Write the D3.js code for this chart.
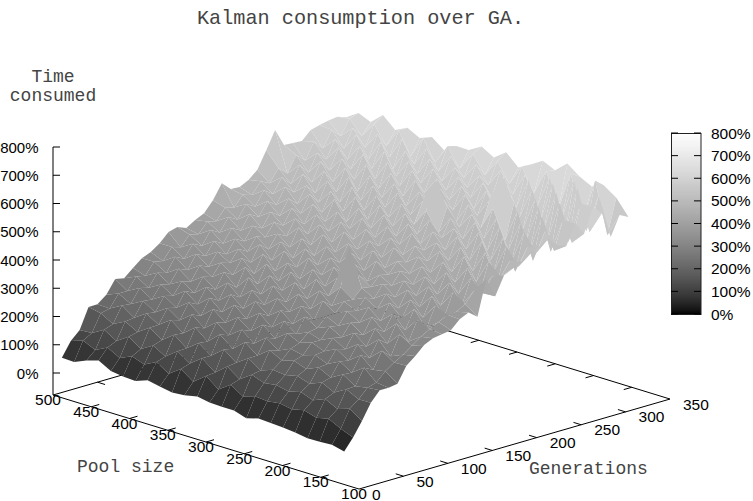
<!DOCTYPE html>
<html><head><meta charset="utf-8">
<script src="https://cdn.jsdelivr.net/npm/d3@7/dist/d3.min.js"></script>
<style>html,body{margin:0;padding:0;background:#fff}svg{display:block}</style>
</head><body><svg id="c" width="753" height="501"></svg>
<script>
const poolTicks=[500,450,400,350,300,250,200,150,100];
const genTicks=[0,50,100,150,200,250,300,350];
const zTicks=[0,100,200,300,400,500,600,700,800];
const poolSizes=[500,484,468,452,436,420,404,388,372,356,340,323,307,291,275,259,243,227,211,195,179,163,147,131];
const generations=[10,20,30,40,50,60,70,80,90,100,110,120,130,140,150,160,170,180,190,200,210,220,230,240,250,260,270,280,290,300,310,320,330];
const timeConsumed=[
[45,95,125,197,198,222,269,263,290,315,328,350,381,389,377,396,411,448,499,469,467,483,510,570,633,570,568,566,596,605,612,616,605],
[43,110,128,188,196,240,240,282,276,316,310,350,340,376,368,404,396,434,426,462,452,492,476,520,492,548,520,578,545,600,570,622,633],
[62,90,152,164,220,216,264,256,300,290,338,322,366,350,396,378,424,406,452,434,482,460,510,478,535,500,560,528,590,548,612,575,615],
[75,112,126,186,190,240,236,280,272,318,304,352,336,380,362,408,390,438,420,466,444,498,470,525,488,552,512,582,532,610,556,630,653],
[51,88,154,162,218,214,262,254,296,286,334,320,364,346,392,374,420,402,450,428,480,452,508,472,540,494,566,520,592,536,618,565,613],
[45,108,124,190,192,242,234,284,268,316,306,348,338,378,360,404,392,436,416,468,440,500,462,528,480,556,506,586,526,612,548,634,634],
[42,92,150,160,222,212,266,250,302,284,336,318,368,344,398,372,418,400,454,424,486,448,514,466,546,486,572,512,600,528,626,556,611],
[58,114,124,192,188,246,232,286,268,322,296,358,326,386,356,412,384,444,412,472,438,508,456,532,476,556,500,584,526,606,550,634,628],
[50,86,156,158,222,210,268,250,302,284,344,312,374,340,402,368,428,396,458,426,486,442,520,464,542,490,568,514,594,538,620,560,595],
[42,116,126,190,186,244,234,288,266,322,298,356,328,382,358,414,380,446,410,472,440,504,454,530,478,554,500,582,528,604,552,630,623],
[45,84,158,158,224,212,266,252,304,284,342,316,372,338,404,370,426,398,460,424,490,446,518,466,544,488,570,516,592,540,618,566,622],
[55,118,122,194,188,246,232,286,268,320,298,358,326,386,358,410,384,442,412,474,436,506,458,528,480,552,504,580,530,602,556,632,649],
[47,84,156,160,224,210,268,250,300,286,340,314,374,340,398,368,430,396,456,428,488,444,516,468,542,492,566,518,590,544,616,570,623],
[45,114,124,190,190,244,232,284,266,320,300,356,328,384,354,412,382,444,410,470,438,502,456,530,625,550,504,580,530,600,556,632,655],
[45,86,154,160,222,212,264,252,304,284,342,316,372,500,398,366,428,396,458,424,490,444,520,464,548,486,572,514,596,536,622,566,614],
[31,100,138,176,200,232,244,272,278,310,312,344,342,374,368,402,394,432,420,468,444,500,470,530,490,560,512,590,530,622,550,640,638],
[44,96,144,170,212,222,258,258,296,290,332,324,362,350,392,378,420,402,452,428,484,450,516,470,548,490,580,510,610,526,634,560,665],
[41,102,134,180,196,236,240,278,272,314,306,350,336,380,360,408,386,440,410,476,434,510,456,542,476,574,680,602,514,636,534,650,644],
[38,94,146,166,214,218,262,252,300,284,338,316,370,342,398,368,426,392,460,416,494,438,528,456,560,474,596,494,626,510,648,530,682],
[34,104,130,184,192,240,234,282,266,320,300,354,330,386,352,414,378,446,402,484,424,520,444,552,462,590,476,616,500,650,516,668,649],
[27,90,148,162,216,214,266,248,304,280,342,310,374,336,402,360,432,384,466,408,502,428,536,446,572,458,606,480,640,490,664,510,627],
[28,100,126,186,188,244,228,286,258,326,292,360,320,390,342,420,366,452,390,492,410,528,430,560,450,596,464,626,480,660,500,670,644],
[31,78,140,164,196,205,236,258,276,300,322,340,356,372,374,392,430,412,462,452,498,470,530,500,570,490,590,500,630,520,640,490,614],
[20,60,110,165,200,200,205,260,285,315,330,335,340,370,385,360,485,415,480,495,510,530,545,565,530,520,590,545,630,600,506,575,559]
];
const svg=d3.select('#c');
const poolX=d3.scaleLinear().domain([500,100]).range([53,359]);
const poolY=d3.scaleLinear().domain([500,100]).range([0,94]);
const genX=d3.scaleLinear().domain([0,350]).range([0,311]);
const genY=d3.scaleLinear().domain([0,350]).range([0,-90]);
const zY=d3.scaleLinear().domain([0,800]).range([373,147]);
const baseZ=-78;
const px=(p,g)=>poolX(p)+genX(g);
const py=(p,g,z)=>zY(z)+poolY(p)+genY(g);
const gray=z=>{const v=Math.max(0,Math.min(1,z/800));const c=Math.round(255*Math.pow(v,1/1.5));return d3.rgb(c,c,c).formatHex();};
const line=d3.line();
const axisCol='#000';
function seg(a,b){svg.append('path').attr('d',line([a,b])).attr('fill','none').attr('stroke',axisCol).attr('stroke-width',1);}
const P=(p,g)=>[px(p,g),py(p,g,baseZ)];
seg(P(500,0),P(100,0));seg(P(100,0),P(100,350));seg(P(100,350),P(500,350));seg(P(500,350),P(500,0));
poolTicks.slice(1,-1).forEach(p=>{seg(P(p,0),P(p,9));seg(P(p,350),P(p,341));});
genTicks.slice(1,-1).forEach(g=>{seg(P(100,g),P(110,g));seg(P(500,g),P(490,g));});
seg([53,py(500,0,baseZ)],[53,zY(800)]);
zTicks.forEach(z=>seg([53,zY(z)],[60,zY(z)]));
const cells=[];
for(let i=0;i<poolSizes.length-1;i++)for(let j=0;j<generations.length-1;j++)cells.push([i,j]);
cells.sort((a,b)=>(a[0]-a[1])-(b[0]-b[1]));
svg.append('g').selectAll('path').data(cells).join('path')
 .attr('d',([i,j])=>{
   const pts=[[i,j],[i+1,j],[i+1,j+1],[i,j+1]].map(([a,b])=>[px(poolSizes[a],generations[b]),py(poolSizes[a],generations[b],timeConsumed[a][b])]);
   return line(pts)+'Z';})
 .attr('fill',([i,j])=>gray((timeConsumed[i][j]+timeConsumed[i+1][j]+timeConsumed[i][j+1]+timeConsumed[i+1][j+1])/4));
function txt(s,x,y,o={}){return svg.append('text').text(s).attr('x',x).attr('y',y)
 .attr('font-family',o.mono?'"Liberation Mono",monospace':'"Liberation Sans",Arial,sans-serif')
 .attr('font-size',o.size||15.5).attr('text-anchor',o.anchor||'start').attr('fill',o.fill||'#000');}
const M={mono:true,size:18,fill:'#444'};
txt('Kalman consumption over GA.',197,23.5,{mono:true,size:20.2,fill:'#444'});
txt('Time',53,82,{...M,anchor:'middle'});
txt('consumed',53,101,{...M,anchor:'middle'});
txt('Pool size',77,472,M);
txt('Generations',529,474,M);
zTicks.forEach(z=>txt(z+'%',38.5,zY(z)+5.5,{anchor:'end',size:15}));
poolTicks.forEach(p=>txt(p,px(p,0)-5,py(p,0,baseZ)+10,{anchor:'middle'}));
genTicks.forEach(g=>txt(g,px(100,g)+13,py(100,g,baseZ)+10.5));
const cb=d3.scaleLinear().domain([0,800]).range([314,133]);
svg.append('g').selectAll('rect').data(d3.range(0,800,800/181)).join('rect')
 .attr('x',671).attr('width',30).attr('y',d=>cb(d)-1).attr('height',1.4).attr('fill',d=>gray(d));
svg.append('rect').attr('x',671.5).attr('y',133.5).attr('width',29.5).attr('height',181).attr('fill','none').attr('stroke','#222');
zTicks.forEach(z=>{const y=cb(z);seg([671,y],[678,y]);seg([694,y],[701,y]);txt(z+'%',711,y+5.5);});
</script></body></html>
